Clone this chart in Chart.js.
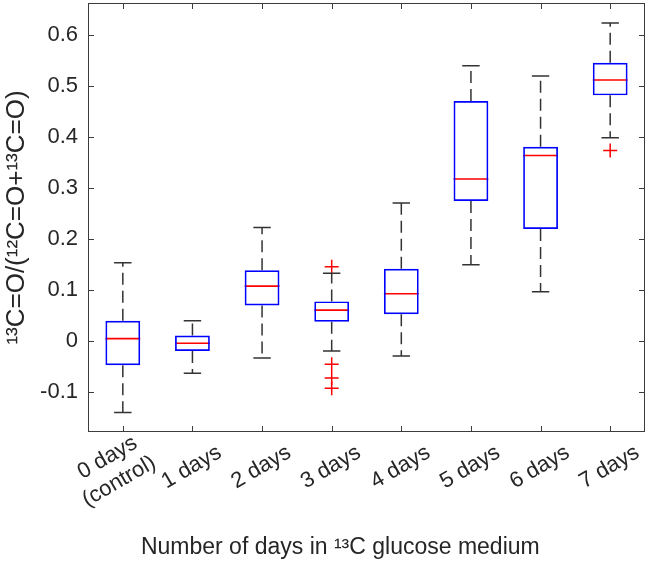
<!DOCTYPE html>
<html>
<head>
<meta charset="utf-8">
<script src="https://cdn.jsdelivr.net/npm/chart.js@4"></script>
<style>
  html, body { margin: 0; padding: 0; background: #fff; }
  #wrap { width: 649px; height: 563px; }
</style>
</head>
<body>
<div id="wrap"><canvas id="box_chart"></canvas></div>
<script>
// every label has two lines so "(control)" sits where the single labels sit
const categories = [['0 days ', '(control)'], ['', '1 days'], ['', '2 days'], ['', '3 days'], ['', '4 days'], ['', '5 days'], ['', '6 days'], ['', '7 days']];
const whiskerHigh = [0.154, 0.040, 0.223, 0.133, 0.271, 0.540, 0.520, 0.624];
const q3 = [0.040, 0.011, 0.139, 0.078, 0.142, 0.471, 0.381, 0.546];
const median = [0.005, -0.004, 0.108, 0.061, 0.093, 0.318, 0.364, 0.512];
const q1 = [-0.047, -0.019, 0.070, 0.038, 0.053, 0.275, 0.220, 0.482];
const whiskerLow = [-0.140, -0.063, -0.033, -0.019, -0.029, 0.150, 0.097, 0.399];
const outlierGroup = [3, 3, 3, 3, 7];
const outlierValue = [0.146, -0.045, -0.072, -0.092, 0.374];
const yTicks = [-0.1, 0, 0.1, 0.2, 0.3, 0.4, 0.5, 0.6];

const textColor = '#262626';
const font = "'Liberation Sans', Arial, sans-serif";

// line pieces, broken with null points
let medianPts = [];
let capPts = [];
let whiskerPts = [];
for (let i = 0; i < categories.length; i++) {
  let x = i + 1;
  medianPts.push({x: x - 0.25, y: median[i]}, {x: x + 0.25, y: median[i]}, {x: x, y: null});
  capPts.push({x: x - 0.125, y: whiskerHigh[i]}, {x: x + 0.125, y: whiskerHigh[i]}, {x: x, y: null});
  capPts.push({x: x - 0.125, y: whiskerLow[i]}, {x: x + 0.125, y: whiskerLow[i]}, {x: x, y: null});
  whiskerPts.push({x: x, y: q3[i]}, {x: x, y: whiskerHigh[i]}, {x: x, y: null});
  whiskerPts.push({x: x, y: q1[i]}, {x: x, y: whiskerLow[i]}, {x: x, y: null});
}
let outlierPts = outlierGroup.map((g, k) => ({x: g + 1, y: outlierValue[k]}));

// box frame with inward ticks, like matlab
const framePlugin = {
  id: 'frame',
  afterDraw(chart) {
    const ctx = chart.ctx;
    const a = chart.chartArea;
    const xs = chart.scales.x;
    const ys = chart.scales.y;
    const len = 6;
    ctx.save();
    ctx.strokeStyle = '#3c3c3c';
    ctx.lineWidth = 1;
    ctx.strokeRect(Math.round(a.left) + 0.5, Math.round(a.top) + 0.5, Math.round(a.right - a.left) - 1, Math.round(a.bottom - a.top) - 1);
    ctx.beginPath();
    ys.ticks.forEach((t, i) => {
      let py = Math.round(ys.getPixelForTick(i)) + 0.5;
      ctx.moveTo(a.left, py); ctx.lineTo(a.left + len, py);
      ctx.moveTo(a.right, py); ctx.lineTo(a.right - len, py);
    });
    xs.ticks.forEach((t, i) => {
      let px = Math.round(xs.getPixelForValue(i)) + 0.5;
      ctx.moveTo(px, a.bottom); ctx.lineTo(px, a.bottom - len);
      ctx.moveTo(px, a.top); ctx.lineTo(px, a.top + len);
    });
    ctx.stroke();
    ctx.restore();
  }
};

let ctx = document.getElementById('box_chart');
let boxChart = new Chart(ctx, {
  type: 'bar',
  data: {
    labels: categories,
    datasets: [
      {
        label: 'box',
        data: q1.map((v, i) => [v, q3[i]]),
        backgroundColor: 'rgba(0,0,0,0)',
        borderColor: '#0000ff',
        borderWidth: 1.7,
        borderSkipped: false,
        grouped: false,
        barPercentage: 0.5,
        categoryPercentage: 1.0
      },
      {
        type: 'line',
        label: 'median',
        data: medianPts,
        xAxisID: 'xl',
        borderColor: '#ff0000',
        borderWidth: 1.6,
        pointRadius: 0,
        spanGaps: false
      },
      {
        type: 'line',
        label: 'caps',
        data: capPts,
        xAxisID: 'xl',
        borderColor: '#333333',
        borderWidth: 1.5,
        pointRadius: 0,
        spanGaps: false
      },
      {
        type: 'line',
        label: 'whiskers',
        data: whiskerPts,
        xAxisID: 'xl',
        borderColor: '#333333',
        borderWidth: 1.5,
        borderDash: [12, 6],
        pointRadius: 0,
        spanGaps: false
      },
      {
        type: 'line',
        label: 'outliers',
        data: outlierPts,
        xAxisID: 'xl',
        showLine: false,
        pointStyle: 'cross',
        pointRadius: 7,
        pointBorderColor: '#ff0000',
        pointBorderWidth: 1.5
      }
    ]
  },
  options: {
    responsive: true,
    maintainAspectRatio: false,
    animation: false,
    layout: { autoPadding: false, padding: { top: 3, right: 4, left: 0, bottom: 0 } },
    plugins: { legend: { display: false }, tooltip: { enabled: false } },
    scales: {
      x: {
        type: 'category',
        grid: { display: false, drawTicks: false },
        border: { display: false },
        ticks: {
          autoSkip: false,
          minRotation: 30,
          maxRotation: 30,
          labelOffset: 18,
          padding: -5,
          color: textColor,
          // the empty first line is shorter, so the two-line label drops a little
          font: c => ({ family: font, size: 22, lineHeight: c.index === 0 ? 1.2 : 0.84 })
        },
        title: {
          display: true,
          text: 'Number of days in ¹³C glucose medium\u2003\u2003 ',
          color: textColor,
          font: { family: font, size: 23 },
          padding: { top: 0, bottom: 2 }
        },
        afterFit(scale) {
          scale.height = 131;
          scale.paddingLeft = 0;
          scale.paddingRight = 0;
        }
      },
      xl: {
        type: 'linear',
        display: false,
        offset: false,
        min: 0.5,
        max: 8.5
      },
      y: {
        min: -0.178,
        max: 0.663,
        grid: { display: false, drawTicks: false },
        border: { display: false },
        afterBuildTicks(scale) { scale.ticks = yTicks.map(v => ({value: v})); },
        ticks: {
          padding: 10,
          color: textColor,
          font: { family: font, size: 22 },
          callback: v => String(Math.round(v * 10) / 10)
        },
        title: {
          display: true,
          text: '¹³C=O/(¹²C=O+¹³C=O)',
          color: textColor,
          font: { family: font, size: 26 },
          padding: { top: 1, bottom: 0 }
        },
        afterFit(scale) {
          scale.width = 88;
          scale.paddingTop = 0;
          scale.paddingBottom = 0;
        }
      }
    }
  },
  plugins: [framePlugin]
});
</script>
</body>
</html>
